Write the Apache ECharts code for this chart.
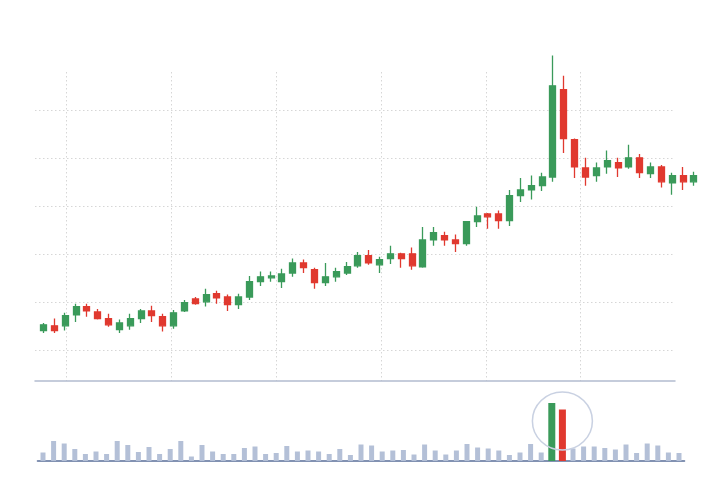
<!DOCTYPE html>
<html>
<head>
<meta charset="utf-8">
<title>K线</title>
<script src="https://cdn.jsdelivr.net/npm/echarts@6.0.0/dist/echarts.min.js"></script>
<style>
  html, body { margin: 0; padding: 0; background: #fff; }
  #main { width: 716px; height: 490px; }
</style>
</head>
<body>
<div id="main"></div>
<script>
// trading days (labels hidden)
var days = ['1','2','3','4','5','6','7','8','9','10','11','12','13','14','15','16','17','18','19','20',
	'21','22','23','24','25','26','27','28','29','30','31','32','33','34','35','36','37','38','39','40',
	'41','42','43','44','45','46','47','48','49','50','51','52','53','54','55','56','57','58','59','60','61'];

var opens = [14.0, 15.0, 15.0, 17.3, 19.0, 17.9, 16.5, 14.2, 15.0, 16.5,
	18.1, 16.9, 15.0, 18.1, 20.6, 20.0, 21.7, 21.0, 19.4, 21.0,
	24.2, 25.0, 24.2, 26.0, 28.1, 26.7, 24.0, 25.2, 26.0, 27.5,
	29.6, 27.7, 29.0, 30.0, 30.0, 27.3, 32.9, 33.8, 32.9, 32.1,
	36.7, 38.3, 38.3, 36.9, 42.1, 43.3, 44.2, 46.0, 64.2, 53.8,
	47.9, 46.3, 48.1, 49.0, 48.1, 50.0, 46.7, 48.1, 44.8, 46.3, 45.0];
var closes = [15.2, 14.0, 17.1, 19.0, 18.1, 16.5, 15.2, 15.6, 16.5, 18.1,
	17.1, 15.0, 17.7, 19.8, 19.6, 21.5, 20.8, 19.4, 21.0, 24.2,
	25.2, 25.4, 25.8, 28.1, 27.1, 24.0, 25.2, 26.3, 27.3, 29.6,
	28.1, 28.8, 30.0, 29.0, 27.5, 32.9, 34.4, 32.9, 32.1, 36.7,
	37.9, 37.7, 36.9, 42.1, 43.3, 44.2, 46.0, 65.0, 54.0, 48.1,
	46.0, 47.9, 49.4, 47.9, 50.0, 46.9, 48.1, 45.0, 46.3, 45.0, 46.3];
var lows = [13.5, 13.5, 14.0, 15.8, 16.9, 16.3, 14.8, 13.5, 14.2, 15.6,
	15.8, 13.8, 14.4, 17.9, 19.4, 19.0, 19.6, 18.1, 18.5, 20.4,
	23.3, 24.2, 22.9, 25.2, 26.0, 22.7, 23.3, 24.2, 25.6, 27.1,
	27.7, 26.0, 27.9, 27.1, 26.7, 27.1, 31.7, 31.7, 30.4, 31.7,
	35.6, 35.2, 35.2, 35.8, 40.8, 41.3, 43.1, 45.0, 51.0, 45.8,
	44.2, 45.0, 46.7, 46.0, 47.7, 45.8, 45.8, 43.8, 42.3, 43.3, 44.2];
var highs = [15.6, 16.5, 17.7, 19.6, 19.6, 18.5, 17.5, 16.3, 17.5, 18.5,
	19.2, 17.5, 18.3, 20.4, 21.0, 22.7, 22.3, 21.5, 21.7, 25.4,
	26.3, 26.3, 26.9, 29.0, 28.8, 27.1, 28.1, 27.1, 28.3, 30.4,
	30.8, 29.4, 31.7, 30.2, 31.3, 35.6, 35.6, 34.6, 34.0, 36.7,
	39.8, 38.5, 39.0, 43.3, 45.8, 46.3, 46.9, 71.3, 67.1, 54.0,
	50.0, 49.0, 51.5, 50.0, 52.7, 50.8, 49.0, 48.5, 46.9, 48.1, 47.1];

var volumes = [8.5, 20, 17.5, 12, 7, 9.5, 7, 20, 16, 9,
	14, 7, 12, 20, 4.5, 16, 9.5, 7, 7, 13,
	14.5, 7, 8, 15, 9.5, 10.5, 9.5, 7, 12, 6,
	16.5, 15.5, 9.5, 10.5, 11, 6.5, 16.5, 10.5, 6.5, 10.5,
	17, 13.5, 12.5, 10.5, 6, 8.5, 17, 8.5, 58, 51.5,
	12.5, 14.5, 14.5, 13, 11.5, 16.5, 8, 17.5, 15.5, 8.5, 8];
// the two highlighted volume days
var spikeDays = [48, 49];
var spikeColors = ['#3a9a5a', '#e0392f'];
// category boundaries carrying a vertical grid line
var vLines = [3, 13, 23, 33, 43, 52];

var GREEN = '#3a9a5a', RED = '#e0392f';
var GRID_DOT = { color: '#d6d6d6', width: 1, type: [1.5, 2.5] };

var kData = days.map(function (d, i) {
	return [opens[i], closes[i], lows[i], highs[i]];
});
var volPlain = volumes.map(function (v, i) {
	return spikeDays.indexOf(i) > -1 ? '-' : v;
});
var volSpike = volumes.map(function (v, i) {
	var k = spikeDays.indexOf(i);
	return k > -1 ? { value: v, itemStyle: { color: spikeColors[k] } } : '-';
});

var myChart = echarts.init(document.getElementById('main'));
myChart.setOption({
	animation: false,
	backgroundColor: '#fff',
	grid: [
		{ left: 38.1, right: 16.7, top: 40.2, bottom: 109 },
		{ left: 35, right: 41, top: 72, bottom: 109 },
		{ left: 37.7, right: 31.7, top: 381, bottom: 29 }
	],
	xAxis: [
		{ gridIndex: 0, type: 'category', data: days, show: false },
		{
			gridIndex: 1, type: 'category', data: days,
			axisLine: { show: true, lineStyle: { color: '#b2bccf', width: 1.5 } },
			axisTick: { show: false },
			axisLabel: { show: false },
			splitLine: {
				show: true,
				showMaxLine: false,
				interval: function (index) { return vLines.indexOf(index) > -1; },
				lineStyle: GRID_DOT
			}
		},
		{
			gridIndex: 2, type: 'category', data: days,
			axisLine: { show: true, lineStyle: { color: '#8292b2', width: 2 } },
			axisTick: { show: false },
			axisLabel: { show: false },
			splitLine: { show: false }
		},
		{ gridIndex: 2, type: 'category', data: days, show: false }
	],
	yAxis: [
		{ gridIndex: 0, type: 'value', min: 3.5, max: 74.5, show: false },
		{
			gridIndex: 1, type: 'value', min: 3.5, max: 67.875,
			minInterval: 10, maxInterval: 10,
			axisLine: { show: false },
			axisTick: { show: false },
			axisLabel: { show: false },
			splitLine: { show: true, showMinLine: false, showMaxLine: false, lineStyle: GRID_DOT }
		},
		{ gridIndex: 2, type: 'value', min: 0, max: 80, show: false }
	],
	series: [
		{
			name: 'K',
			type: 'candlestick',
			xAxisIndex: 0,
			yAxisIndex: 0,
			barWidth: 6.5,
			data: kData,
			itemStyle: {
				color: GREEN,
				color0: RED,
				borderColor: GREEN,
				borderColor0: RED,
				borderWidth: 1.3
			}
		},
		{
			name: 'Volume',
			type: 'bar',
			xAxisIndex: 2,
			yAxisIndex: 2,
			barWidth: 5,
			data: volPlain,
			itemStyle: { color: '#b4c0d7' }
		},
		{
			name: 'Spike',
			type: 'bar',
			xAxisIndex: 3,
			yAxisIndex: 2,
			barWidth: 7,
			data: volSpike,
			markPoint: {
				silent: true,
				symbol: 'circle',
				symbolSize: [60, 58],
				label: { show: false },
				itemStyle: { color: 'rgba(255,255,255,0)', borderColor: '#c9d1e2', borderWidth: 1.5 },
				data: [{ coord: [48.5, 40] }]
			}
		}
	]
});
</script>
</body>
</html>
